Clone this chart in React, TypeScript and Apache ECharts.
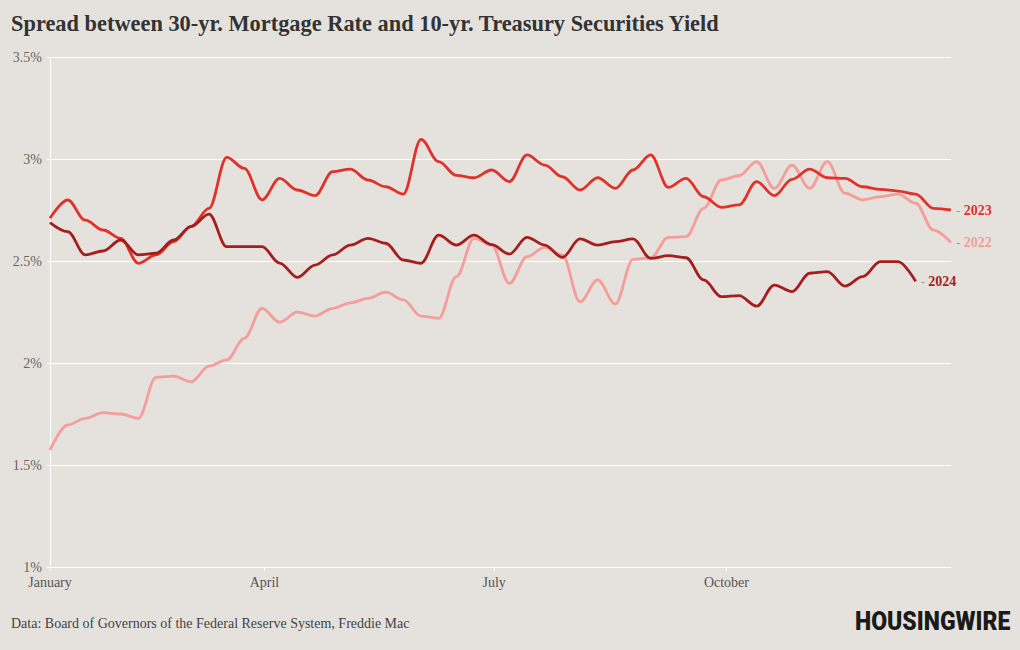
import React, { useEffect, useRef } from "react";
import * as echarts from "echarts";

// Weekly spread values (percentage points), week 0 = first week of January
const spread2022 = [1.574, 1.696, 1.729, 1.757, 1.75, 1.729, 1.93, 1.936, 1.908, 1.985, 2.015, 2.121, 2.268, 2.2, 2.249, 2.23, 2.268, 2.295, 2.317, 2.347, 2.309, 2.23, 2.219, 2.423, 2.611, 2.578, 2.39, 2.521, 2.567, 2.53, 2.3, 2.407, 2.289, 2.508, 2.516, 2.616, 2.619, 2.758, 2.897, 2.918, 2.987, 2.856, 2.97, 2.856, 2.987, 2.832, 2.8, 2.815, 2.828, 2.783, 2.652, 2.59];
const spread2023 = [2.709, 2.799, 2.7, 2.652, 2.611, 2.489, 2.53, 2.595, 2.67, 2.758, 3.008, 2.954, 2.8, 2.905, 2.848, 2.82, 2.938, 2.95, 2.897, 2.864, 2.828, 3.096, 2.987, 2.92, 2.908, 2.946, 2.889, 3.02, 2.97, 2.913, 2.848, 2.908, 2.856, 2.946, 3.02, 2.861, 2.905, 2.815, 2.763, 2.775, 2.889, 2.82, 2.9, 2.95, 2.908, 2.905, 2.864, 2.851, 2.843, 2.828, 2.758, 2.75];
const spread2024 = [2.688, 2.644, 2.53, 2.549, 2.603, 2.53, 2.538, 2.603, 2.67, 2.73, 2.57, 2.57, 2.57, 2.49, 2.42, 2.48, 2.53, 2.578, 2.611, 2.587, 2.505, 2.489, 2.627, 2.578, 2.627, 2.58, 2.534, 2.616, 2.578, 2.518, 2.608, 2.578, 2.595, 2.608, 2.513, 2.526, 2.516, 2.407, 2.325, 2.33, 2.279, 2.382, 2.35, 2.44, 2.448, 2.377, 2.423, 2.497, 2.497, 2.4];

const seriesNames = ["2022", "2023", "2024"];
const monthLabels = ["January", "April", "July", "October"];
const monthWeekPositions = [0, 12.14, 25.14, 38.29];
const yTicks = [1, 1.5, 2, 2.5, 3, 3.5];

const title = "Spread between 30-yr. Mortgage Rate and 10-yr. Treasury Securities Yield";
const source = "Data: Board of Governors of the Federal Reserve System, Freddie Mac";
const logo = "HOUSINGWIRE";

const colors: Record<string, string> = {
  "2022": "#f59d99",
  "2023": "#e0322a",
  "2024": "#a51e1e",
};

const toPairs = (vals: number[]) => vals.map((v, i) => [i, v]);

export default function App() {
  const ref = useRef<HTMLDivElement>(null);

  useEffect(() => {
    document.body.style.margin = "0";
    if (!ref.current) return;
    const chart = echarts.init(ref.current, undefined, { renderer: "svg" });
    const serif = "'Liberation Serif', 'DejaVu Serif', serif";
    const data = [spread2022, spread2023, spread2024];

    const series = seriesNames.map((name, k) => ({
      name,
      type: "line",
      data: toPairs(data[k]),
      smooth: 0.35,
      smoothMonotone: "x",
      showSymbol: false,
      symbol: "none",
      z: 2 + k,
      lineStyle: { color: colors[name], width: 2.8 },
      itemStyle: { color: colors[name] },
      endLabel: {
        show: true,
        distance: 5,
        formatter: () => `{d|-} {y|${name}}`,
        rich: {
          d: { color: "#9a9a9a", fontFamily: serif, fontSize: 13 },
          y: { color: colors[name], fontFamily: serif, fontSize: 14, fontWeight: "bold" },
        },
      },
      emphasis: { disabled: true },
    }));

    chart.setOption({
      animation: false,
      backgroundColor: "#e5e2de",
      grid: { left: 50, right: 69, top: 57, bottom: 83, containLabel: false },
      xAxis: {
        type: "value",
        min: 0,
        max: 51,
        axisLine: { show: true, lineStyle: { color: "#ffffff", width: 1 } },
        axisTick: {
          show: true,
          length: 4,
          customValues: monthWeekPositions,
          lineStyle: { color: "#ffffff" },
        },
        axisLabel: {
          customValues: monthWeekPositions,
          formatter: (v: number) => {
            const idx = monthWeekPositions.findIndex((p) => Math.abs(p - v) < 0.01);
            return idx >= 0 ? monthLabels[idx] : "";
          },
          color: "#555555",
          fontFamily: serif,
          fontSize: 14,
          margin: 8,
        },
        splitLine: { show: false },
      },
      yAxis: {
        type: "value",
        min: yTicks[0],
        max: yTicks[yTicks.length - 1],
        interval: 0.5,
        axisLine: { show: true, lineStyle: { color: "#ffffff", width: 1 } },
        axisTick: { show: true, length: 3, lineStyle: { color: "#ffffff" } },
        axisLabel: {
          formatter: (v: number) => `${v}%`,
          color: "#666666",
          fontFamily: serif,
          fontSize: 14,
          margin: 8,
        },
        splitLine: { show: true, lineStyle: { color: "#ffffff", width: 1 } },
      },
      graphic: [
        {
          type: "text",
          x: 11,
          y: 23,
          scaleX: 0.933,
          style: {
            text: title,
            fontFamily: serif,
            fontWeight: "bold",
            fontSize: 24,
            fill: "#333333",
            textVerticalAlign: "middle",
            textAlign: "left",
          },
        },
        {
          type: "text",
          x: 11,
          y: 623,
          scaleX: 1.0,
          style: {
            text: source,
            fontFamily: serif,
            fontSize: 14,
            fill: "#444444",
            textVerticalAlign: "middle",
            textAlign: "left",
          },
        },
        {
          type: "text",
          x: 855,
          y: 621,
          scaleX: 0.886,
          style: {
            text: logo,
            fontFamily: "Roboto, 'Liberation Sans', sans-serif",
            fontWeight: 900,
            fontSize: 26,
            fill: "#1a1a1a",
            textVerticalAlign: "middle",
            textAlign: "left",
          },
        },
      ],
      series,
    });

    return () => chart.dispose();
  }, []);

  return <div ref={ref} style={{ width: 1020, height: 650, background: "#e5e2de" }} />;
}
